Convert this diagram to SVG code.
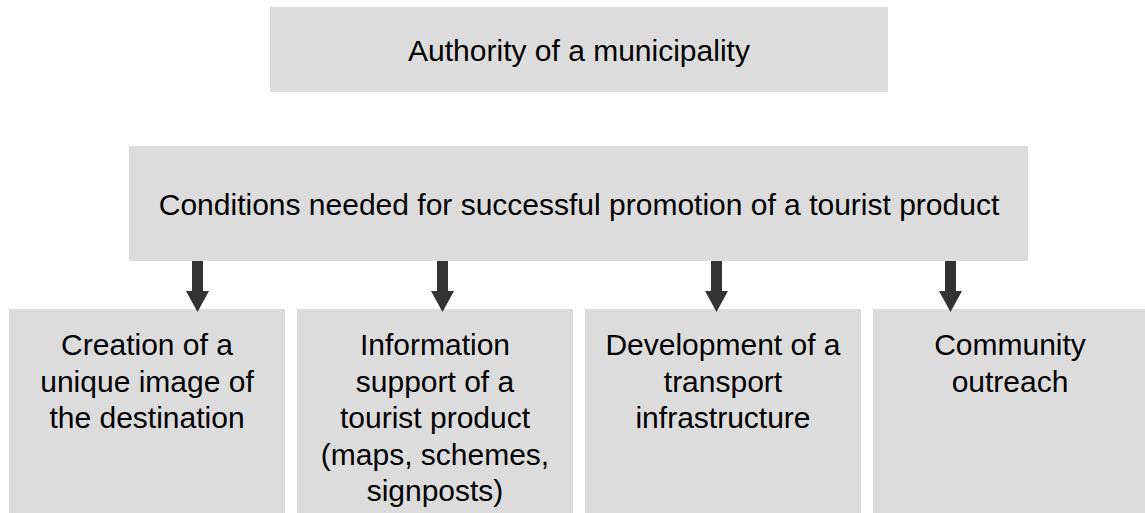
<svg xmlns="http://www.w3.org/2000/svg" width="1145" height="513" viewBox="0 0 1145 513">
<style>
.box{fill:#dcdcdc}
.t{font-family:"Liberation Sans",Arial,sans-serif;font-size:30px;fill:#000;text-anchor:middle}
.arr{fill:#333333}
</style>
<rect width="1145" height="513" fill="#fff"/>
<g id="n-authority"><rect class="box" x="270" y="7" width="618" height="85"/><text class="t" x="579" y="61">Authority of a municipality</text></g>
<g id="n-conditions"><rect class="box" x="129" y="146" width="899" height="115"/><text class="t" x="579" y="215">Conditions needed for successful promotion of a tourist product</text></g>
<g id="n-image"><rect class="box" x="9" y="309" width="276" height="204"/><text class="t"><tspan x="147" y="355">Creation of a</tspan><tspan x="147" y="391.5">unique image of</tspan><tspan x="147" y="428">the destination</tspan></text></g>
<g id="n-info"><rect class="box" x="297" y="309" width="276" height="204"/><text class="t"><tspan x="435" y="355">Information</tspan><tspan x="435" y="391.5">support of a</tspan><tspan x="435" y="428">tourist product</tspan><tspan x="435" y="464.5">(maps, schemes,</tspan><tspan x="435" y="501">signposts)</tspan></text></g>
<g id="n-transport"><rect class="box" x="585" y="309" width="276" height="204"/><text class="t"><tspan x="723" y="355">Development of a</tspan><tspan x="723" y="391.5">transport</tspan><tspan x="723" y="428">infrastructure</tspan></text></g>
<g id="n-community"><rect class="box" x="873" y="309" width="272" height="204"/><text class="t"><tspan x="1010" y="355">Community</tspan><tspan x="1010" y="391.5">outreach</tspan></text></g>
<g id="connectors">
<path class="arr" d="M192 261h11v30h6l-11.5 21l-11.5-21h6z"/>
<path class="arr" d="M437 261h11v30h6l-11.5 21l-11.5-21h6z"/>
<path class="arr" d="M711 261h11v30h6l-11.5 21l-11.5-21h6z"/>
<path class="arr" d="M945 261h11v30h6l-11.5 21l-11.5-21h6z"/>
</g>
</svg>
